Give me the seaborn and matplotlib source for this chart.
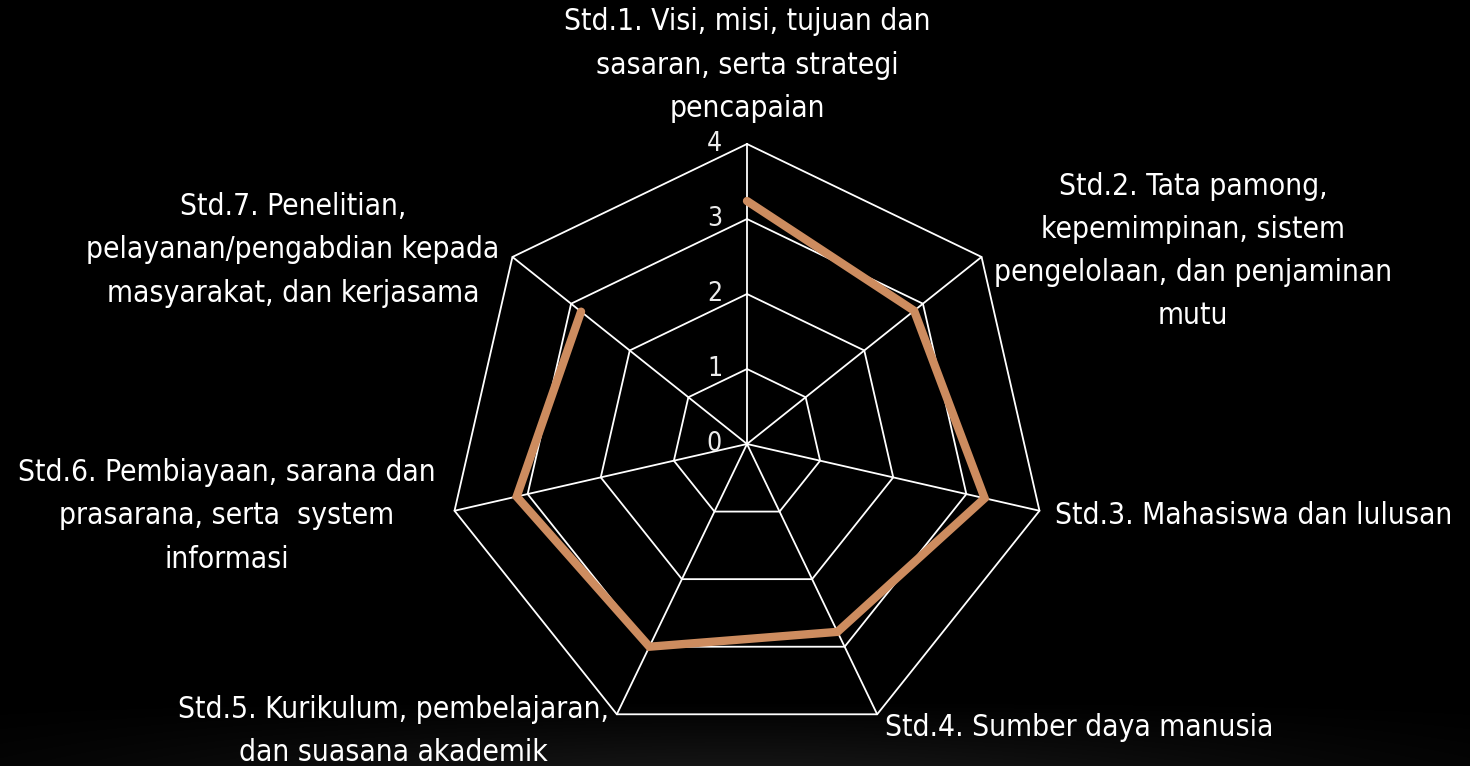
import numpy as np
import pandas as pd
import matplotlib
matplotlib.use("Agg")
import matplotlib.pyplot as plt
import seaborn as sns

standards = [
    "Std.1. Visi, misi, tujuan dan\nsasaran, serta strategi\npencapaian",
    "Std.2. Tata pamong,\nkepemimpinan, sistem\npengelolaan, dan penjaminan\nmutu",
    "Std.3. Mahasiswa dan lulusan",
    "Std.4. Sumber daya manusia",
    "Std.5. Kurikulum, pembelajaran,\ndan suasana akademik",
    "Std.6. Pembiayaan, sarana dan\nprasarana, serta  system\ninformasi",
    "Std.7. Penelitian,\npelayanan/pengabdian kepada\nmasyarakat, dan kerjasama",
]
scores = [3.24, 2.85, 3.25, 2.78, 3.0, 3.15, 2.83]
rings = [1, 2, 3, 4]
tick_values = [0, 1, 2, 3, 4]

sns.set_theme(style="dark")
plt.rcParams["font.family"] = ["DejaVu Sans"]
plt.rcParams["font.stretch"] = "condensed"

W, H = 1470, 766
fig = plt.figure(figsize=(W / 100, H / 100), dpi=100, facecolor="black")

# faint glow at the bottom of the slide
bg = fig.add_axes([0, 0, 1, 1], zorder=-10)
yy, xx = np.mgrid[0:H, 0:W]
glow = np.clip((yy - 700) / 66, 0, 1) * np.exp(-((xx - W / 2) / 600.0) ** 2) * 0.08
bg.imshow(glow, cmap="gray", vmin=0, vmax=1, aspect="auto", interpolation="bilinear")
bg.axis("off")

cx, cy, R = 747, 444, 300
ax = fig.add_axes([(cx - R) / W, (H - cy - R) / H, 2 * R / W, 2 * R / H], projection="polar")
ax.set_facecolor("none")
ax.set_theta_zero_location("N")
ax.set_theta_direction(-1)
ax.set_ylim(0, 4)
ax.axis("off")

n = len(standards)
theta = np.linspace(0, 2 * np.pi, n, endpoint=False)
theta_closed = np.append(theta, theta[0])

# polygon grid
for r in rings:
    ax.plot(theta_closed, [r] * (n + 1), color="white", lw=1.3, clip_on=False, zorder=1)
for t in theta:
    ax.plot([t, t], [0, 4], color="white", lw=1.3, clip_on=False, zorder=1)

df = pd.DataFrame({"theta": theta_closed, "score": scores + scores[:1]})
sns.lineplot(data=df, x="theta", y="score", sort=False, ax=ax, color="#CD8C5F",
             linewidth=6, solid_joinstyle="miter", clip_on=False, zorder=3)

for v in tick_values:
    ax.annotate(str(v), xy=(0, v), xytext=(-18, 0), textcoords="offset points",
                ha="right", va="center", color="#ececec", fontsize=19, zorder=4)

label_pos = [
    (747, 65, "center"),
    (1193, 251, "center"),
    (1055, 516, "left"),
    (885, 728, "left"),
    (393, 731, "center"),
    (227, 516, "center"),
    (293, 250, "center"),
]
for text, (x, y, ha) in zip(standards, label_pos):
    fig.text(x / W, 1 - y / H, text, ha=ha, va="center", ma="center",
             color="white", fontsize=21.5, linespacing=1.62)

fig.savefig("out.png", dpi=100, facecolor="black")
